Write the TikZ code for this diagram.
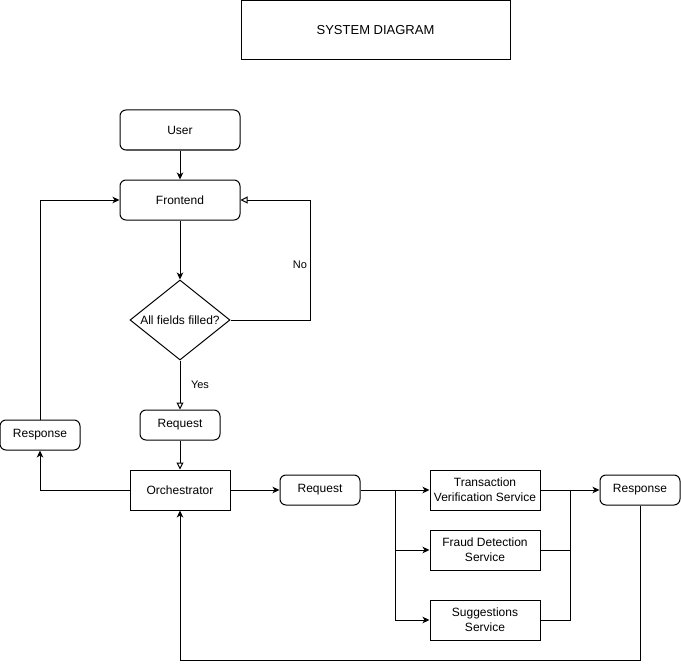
\documentclass[tikz,border=0pt]{standalone}
\usepackage{fontspec}
\setmainfont{Liberation Sans}
\usetikzlibrary{arrows.meta,shapes.geometric}
\begin{document}
\begin{tikzpicture}[x=1pt,y=-1pt,line width=1pt,
  every node/.style={font=\fontsize{12}{15}\selectfont,inner sep=0pt,align=center},
  rbox/.style={draw,rounded corners=6pt},
  sbox/.style={draw},
  flow/.style={draw,-{Stealth[length=7pt,width=6.5pt,inset=2pt]}},
  openflow/.style={draw,-{Triangle[open,length=7pt,width=7pt]}},
  plain/.style={draw},
  lbl/.style={font=\fontsize{11}{13}\selectfont}]
\useasboundingbox (0,0) rectangle (681,669);

% title
\node[sbox,minimum width=269pt,minimum height=59pt,font=\fontsize{13}{15}\selectfont] (title) at (375.5,30.5) {SYSTEM DIAGRAM};

% main flow
\node[rbox,minimum width=120pt,minimum height=40pt] (user) at (180,130) {User};
\node[rbox,minimum width=120pt,minimum height=40pt] (front) at (180,200) {Frontend};
\node[draw,diamond,minimum width=100pt,minimum height=80pt,inner sep=0pt] (check) at (180,320) {};
\node at (180,320) {All fields filled?};
\node[rbox,minimum width=80pt,minimum height=30pt] (req1) at (180,425) {Request};
\node[rbox,minimum width=80pt,minimum height=30pt] (resp1) at (40,435) {Response};
\node[sbox,minimum width=100pt,minimum height=40pt] (orch) at (180,490) {Orchestrator};
\node[rbox,minimum width=80pt,minimum height=30pt] (req2) at (320,490) {Request};

% services
\node[sbox,minimum width=110pt,minimum height=40pt] (tvs) at (485,490) {Transaction\\Verification Service};
\node[sbox,minimum width=110pt,minimum height=40pt] (fds) at (485,550) {Fraud Detection\\Service};
\node[sbox,minimum width=110pt,minimum height=40pt] (sug) at (485,620) {Suggestions\\Service};
\node[rbox,minimum width=80pt,minimum height=30pt] (resp2) at (640,490) {Response};

% junction points
\coordinate (split) at (395,490);
\coordinate (merge) at (570,490);

% connectors
\path[flow] (user) -- (front);
\path[flow] (front) -- (check);
\path[openflow] (check.east) -- (310,320) -- (310,200) -- (front.east);
\node[lbl] (no) at (300,265) {No};
\path[openflow] (check.south) -- (req1.north);
\node[lbl] (yes) at (200,385) {Yes};
\path[openflow] (req1.south) -- (orch.north);
\path[flow] (orch.west) -- (40,490) -- (resp1.south);
\path[flow] (resp1.north) -- (40,200) -- (front.west);
\path[flow] (orch.east) -- (req2.west);
\path[flow] (req2.east) -- (tvs.west);
\path[flow] (split) |- (fds.west);
\path[flow] (split) |- (sug.west);
\path[flow] (tvs.east) -- (resp2.west);
\path[plain] (fds.east) -| (merge);
\path[plain] (sug.east) -| (merge);
\path[flow] (resp2.south) -- (640,660) -- (180,660) -- (orch.south);
\end{tikzpicture}
\end{document}
